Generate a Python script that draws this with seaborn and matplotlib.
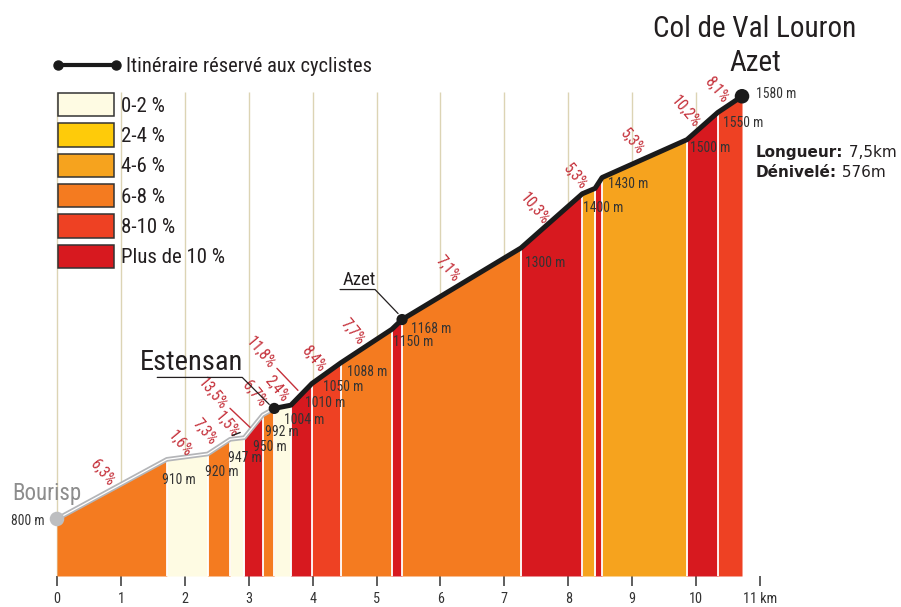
import pandas as pd
import seaborn as sns
import matplotlib.pyplot as plt
from matplotlib.patches import Patch
from matplotlib.lines import Line2D
from matplotlib.legend_handler import HandlerLine2D

# Profile points: distance (km) and altitude (m)
distance = [0, 1.72, 2.36, 2.71, 2.93, 3.22, 3.40, 3.66, 3.99, 4.44, 5.24, 5.40,
            7.26, 8.22, 8.42, 8.53, 9.86, 10.34, 10.72]
elevation = [800, 910, 920, 947, 950, 992, 1004, 1010, 1050, 1088, 1150, 1168,
             1300, 1400, 1410, 1430, 1500, 1550, 1580]
elev_shown = [True] * 14 + [False] + [True] * 4

# One entry per segment
segment_class = [3, 0, 3, 0, 5, 3, 0, 5, 4, 3, 5, 3, 5, 2, 5, 2, 5, 4]
segment_grade = ["6,3%", "1,6%", "7,3%", "1,5%", "13,5%", "6,7%", "2,4%", "11,8%", "8,4%",
                 "7,7%", None, "7,1%", "10,3%", "5,3%", None, "5,3%", "10,2%", "8,1%"]

classes = ["0-2 %", "2-4 %", "4-6 %", "6-8 %", "8-10 %", "Plus de 10 %"]
class_colors = ["#fefbe3", "#fecb0a", "#f6a31e", "#f47b20", "#ee4123", "#d7191f"]

km_ticks = list(range(12))
km_labels = [str(k) for k in range(11)] + ["11 km"]
grid_km = list(range(11))

cycle_start = 6  # Estensan: road reserved to cyclists from here on
places = {"Bourisp": 0, "Estensan": 6, "Azet": 11}

# label offsets in pixels (layout only)
elev_offsets = [(-12, -2), (-5, -21), (-3, -18), (-2, -19), (9, -9), (2, -17), (10, -12),
                (14, 2), (11, -4), (6, -9), (1, -13), (9, -9), (4, -15), (1, -14), None,
                (6, -6), (3, -8), (5, -10), (14, 2)]
grade_offsets = [(-10, 16), (-7, 13), (-14, 15), (-10, 14), (-41, 33), (-14, 18), (-6, 18),
                 (-41, 42), (-13, 14), (-14, 14), None, (-14, 15), (-17, 12), (-13, 14),
                 None, (-12, 17), (-17, 14), (-13, 15)]
grade_leaders = {4: [(-23.5, 18), (-3.5, -1)], 7: [(-24.5, 26), (-3.5, 4)]}

sns.set_theme(style="white")
plt.rcParams["font.family"] = ["Roboto Condensed", "PT Sans Narrow", "Liberation Sans Narrow",
                               "Roboto", "DejaVu Sans"]

W, H = 901, 607
fig = plt.figure(figsize=(W / 100, H / 100), dpi=100)
ax = fig.add_axes([0, 31 / H, 1, 576 / H])
base = 694.8
ax.set_xlim(-0.892, 13.208)
ax.set_ylim(base, 1757.6)
sns.despine(ax=ax, left=True, bottom=True)
ax.set_yticks([])
ax.set_xticks(km_ticks, km_labels)
ax.tick_params(axis="x", bottom=True, length=7.2, width=1.1, color="#333333", pad=4.5,
               labelsize=10.3, labelcolor="#333333")

red_txt = "#c5303a"
dark = "#231f20"


def shift(x, y, dx, dy):
    px, py = ax.transData.transform((x, y))
    return ax.transData.inverted().transform((px + dx, py + dy))


# km grid
ax.vlines(grid_km, base, 1588, color="#dcd4b4", lw=1, zorder=0)

# coloured gradient segments
for i, c in enumerate(segment_class):
    ax.fill_between(distance[i:i + 2], elevation[i:i + 2], base,
                    color=class_colors[c], lw=0, zorder=1)
ax.vlines(distance[1:-1], base, elevation[1:-1], color="white", lw=1.3, zorder=2)

# profile line
prof = pd.DataFrame({"km": distance, "alt": elevation})
road = prof.iloc[:cycle_start + 1]
cycle = prof.iloc[cycle_start:]
sns.lineplot(data=road, x="km", y="alt", ax=ax, color="#b4b5b8", lw=3.4, zorder=3,
             solid_capstyle="round")
sns.lineplot(data=road, x="km", y="alt", ax=ax, color="white", lw=0.9, zorder=3)
sns.lineplot(data=cycle, x="km", y="alt", ax=ax, color="#1a1a1a", lw=3.6, zorder=4,
             solid_capstyle="round", solid_joinstyle="round")
ax.set_xlabel("")
ax.set_ylabel("")

sns.scatterplot(x=[distance[0]], y=[elevation[0]], ax=ax, s=110, color="#bdbec0",
                edgecolor="none", zorder=6)
sns.scatterplot(x=[distance[cycle_start], distance[11]], y=[elevation[cycle_start], elevation[11]],
                ax=ax, s=65, color="#1a1a1a", edgecolor="none", zorder=6)
sns.scatterplot(x=[distance[-1]], y=[elevation[-1]], ax=ax, s=110, color="#1a1a1a",
                edgecolor="none", zorder=6)

# altitude labels
for i, (x, e) in enumerate(zip(distance, elevation)):
    if not elev_shown[i]:
        continue
    dx, dy = elev_offsets[i]
    ax.annotate(f"{e} m", (x, e), xytext=(dx, dy), textcoords="offset pixels",
                ha="right" if i == 0 else "left", va="center", fontsize=9.8,
                color="#333333", zorder=7)

# gradient labels
for i, g in enumerate(segment_grade):
    if g is None:
        continue
    mx = (distance[i] + distance[i + 1]) / 2
    my = (elevation[i] + elevation[i + 1]) / 2
    dx, dy = grade_offsets[i]
    ax.annotate(g, (mx, my), xytext=(dx, dy), textcoords="offset pixels", rotation=-50,
                rotation_mode="anchor", ha="center", va="center", fontsize=11.3,
                color=red_txt, zorder=7)
    if i in grade_leaders:
        pts = [shift(mx, my, *o) for o in grade_leaders[i]]
        ax.plot([p[0] for p in pts], [p[1] for p in pts], color=red_txt, lw=1, zorder=7)

# small tick under 1,5%
mx = (distance[3] + distance[4]) / 2
my = (elevation[3] + elevation[4]) / 2
pts = [shift(mx, my, -5, 3), shift(mx, my, 3, 6)]
ax.plot([p[0] for p in pts], [p[1] for p in pts], color=dark, lw=1, zorder=7)

# place names
i0 = places["Bourisp"]
ax.annotate("Bourisp", (distance[i0], elevation[i0]), xytext=(-45, 19),
            textcoords="offset pixels", fontsize=16.5, color="#8d8d8d", va="baseline")

i1 = places["Estensan"]
ax.annotate("Estensan", (distance[i1], elevation[i1]), xytext=(-134, 38),
            textcoords="offset pixels", fontsize=20.5, color=dark, va="baseline")
pts = [shift(distance[i1], elevation[i1], *o) for o in [(-117, 31), (-32, 31), (-5, 4)]]
ax.plot([p[0] for p in pts], [p[1] for p in pts], color=dark, lw=0.9, zorder=7)

i2 = places["Azet"]
ax.annotate("Azet", (distance[i2], elevation[i2]), xytext=(-59, 35),
            textcoords="offset pixels", fontsize=13.5, color=dark, va="baseline")
pts = [shift(distance[i2], elevation[i2], *o) for o in [(-62, 30), (-27, 30), (-4, 6)]]
ax.plot([p[0] for p in pts], [p[1] for p in pts], color=dark, lw=0.9, zorder=7)

# summit title
fig.text(755 / W, 1 - 37 / H, "Col de Val Louron", ha="center", va="baseline",
         fontsize=21, color=dark)
fig.text(755 / W, 1 - 71 / H, "Azet", ha="center", va="baseline", fontsize=21, color=dark)

# length / climb
for y, lab, val in [(157, "Longueur:", " 7,5km"), (177, "Dénivelé:", " 576m")]:
    t = fig.text(756 / W, 1 - y / H, lab, fontweight="bold", family="DejaVu Sans",
                 fontsize=11, color=dark, va="baseline")
    ax.annotate(val, xy=(1, 0), xycoords=t, va="bottom", ha="left", family="DejaVu Sans",
                fontsize=11, color=dark, annotation_clip=False)

# legends
fs = 15
fs_px = fs / 0.72
route = Line2D([], [], color="#1a1a1a", lw=3, marker="o", markersize=6.5)
leg1 = fig.legend([route], ["Itinéraire réservé aux cyclistes"], loc="center left",
                  bbox_to_anchor=(58 / W, 1 - 67 / H), frameon=False, fontsize=14.8,
                  borderpad=0, borderaxespad=0, handlelength=58 / (14.8 / 0.72),
                  handletextpad=0.5,
                  handler_map={route: HandlerLine2D(numpoints=2, marker_pad=0)})
for t in leg1.get_texts():
    t.set_color(dark)

handles = [Patch(facecolor=c, edgecolor="#333333", lw=1.1) for c in class_colors]
leg2 = fig.legend(handles, classes, loc="upper left", bbox_to_anchor=(58 / W, 1 - 93 / H),
                  frameon=False, fontsize=fs, borderpad=0, borderaxespad=0,
                  handlelength=56 / fs_px, handleheight=28 / fs_px,
                  labelspacing=7 / fs_px, handletextpad=7 / fs_px)
for t in leg2.get_texts():
    t.set_color(dark)

fig.savefig("out.png", dpi=100)
